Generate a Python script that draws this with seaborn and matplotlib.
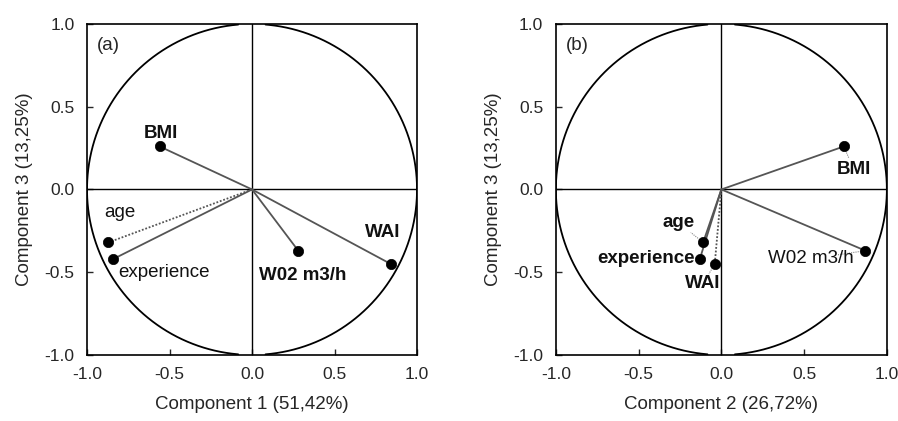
import numpy as np
import pandas as pd
import matplotlib
matplotlib.use("Agg")
import matplotlib.pyplot as plt
import seaborn as sns
from matplotlib import font_manager

# ---- data ----
variables = ["BMI", "age", "experience", "W02 m3/h", "WAI"]
comp1 = [-0.56, -0.87, -0.84, 0.28, 0.84]
comp2 = [0.74, -0.11, -0.13, 0.87, -0.04]
comp3 = [0.26, -0.32, -0.42, -0.37, -0.45]

xlabel_a = "Component 1 (51,42%)"
xlabel_b = "Component 2 (26,72%)"
ylabel = "Component 3 (13,25%)"
ticks = [-1.0, -0.5, 0.0, 0.5, 1.0]
tick_labels = ["-1.0", "-0.5", "0.0", "0.5", "1.0"]

# label placement (offsets from data point) and style per panel
lab_a = {
    "BMI": (0.01, 0.08, "bold", "center", None),
    "age": (0.07, 0.18, "normal", "center", None),
    "experience": (0.03, -0.08, "normal", "left", None),
    "W02 m3/h": (0.03, -0.15, "bold", "center", None),
    "WAI": (-0.05, 0.19, "bold", "center", None),
}
lab_b = {
    "BMI": (0.06, -0.14, "bold", "center", True),
    "age": (-0.15, 0.12, "bold", "center", True),
    "experience": (-0.03, 0.0, "bold", "right", False),
    "W02 m3/h": (-0.33, -0.05, "normal", "center", True),
    "WAI": (-0.07, -0.12, "bold", "center", True),
}
dotted_a = {"age"}
dotted_b = {"WAI"}

sns.set_style("white")
plt.rcParams["font.family"] = ["Liberation Sans", "DejaVu Sans"]

names = {f.name for f in font_manager.fontManager.ttflist}
tick_family = "Liberation Sans Narrow" if "Liberation Sans Narrow" in names else "Liberation Sans"
tick_fs = 14 if tick_family == "Liberation Sans Narrow" else 12.5

fig = plt.figure(figsize=(8.98, 4.21), dpi=100)
ax1 = fig.add_axes([0.0969, 0.157, 0.3675, 0.786])
ax2 = fig.add_axes([0.619, 0.157, 0.3686, 0.786])

FS = 13.5

def draw(ax, xs, ys, labels, dotted, xlabel, tag):
    df = pd.DataFrame({"x": xs, "y": ys, "var": variables})
    # unit circle (with small gaps where it touches the frame top/bottom)
    t = np.linspace(0, 2 * np.pi, 1440)
    cx, cy = np.cos(t), np.sin(t)
    cy = np.where((np.abs(cx) < 0.08), np.nan, cy)
    ax.plot(cx, cy, color="black", lw=1.3, zorder=2)
    ax.axhline(0, color="black", lw=1.0, zorder=1)
    ax.axvline(0, color="black", lw=1.0, zorder=1)
    for _, r in df.iterrows():
        ls = (0, (1, 1)) if r["var"] in dotted else "-"
        ax.plot([0, r["x"]], [0, r["y"]], color="#555555", lw=1.3, ls=ls, zorder=3)
    sns.scatterplot(data=df, x="x", y="y", ax=ax, color="black", s=55,
                    edgecolor="black", linewidth=0.5, zorder=4, legend=False)
    for _, r in df.iterrows():
        dx, dy, w, ha, leader = labels[r["var"]]
        tx, ty = r["x"] + dx, r["y"] + dy
        ax.text(tx, ty, r["var"], fontsize=FS, fontweight=w, ha=ha,
                va="center", color="#111111", zorder=5)
        if leader:
            ax.plot([r["x"], r["x"] + dx * 0.5], [r["y"], r["y"] + dy * 0.5],
                    color="#888888", lw=0.8, ls=(0, (1, 1)), zorder=3)
    ax.text(-0.94, 0.87, tag, fontsize=FS, ha="left", va="center")
    ax.set_xlim(-1, 1)
    ax.set_ylim(-1, 1)
    ax.set_xticks(ticks)
    ax.set_xticklabels(tick_labels, family=tick_family, fontsize=tick_fs)
    ax.set_yticks(ticks)
    ax.set_yticklabels(tick_labels, family=tick_family, fontsize=tick_fs)
    ax.tick_params(direction="in", length=4, width=1,
                   bottom=True, left=True, top=False, right=False, pad=9)
    ax.set_xlabel(xlabel, fontsize=FS, labelpad=10)
    ax.set_ylabel(ylabel, fontsize=FS, labelpad=8)
    for s in ax.spines.values():
        s.set_color("black")
        s.set_linewidth(1.2)

draw(ax1, comp1, comp3, lab_a, dotted_a, xlabel_a, "(a)")
draw(ax2, comp2, comp3, lab_b, dotted_b, xlabel_b, "(b)")

fig.savefig("out.png", dpi=100, facecolor="white")
